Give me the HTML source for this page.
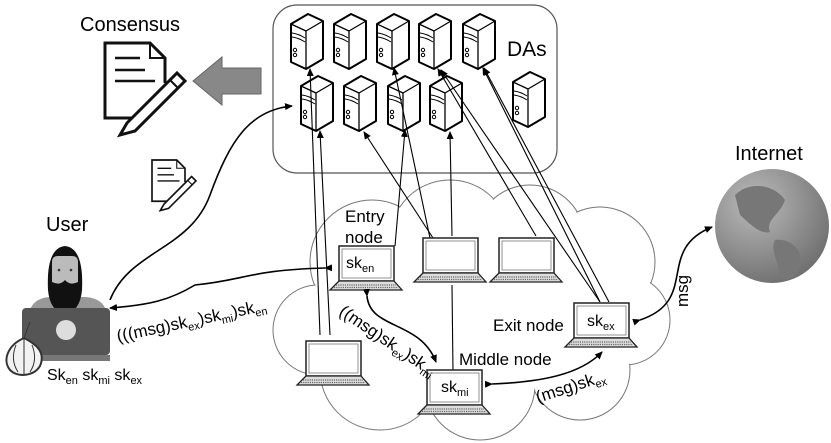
<!DOCTYPE html>
<html><head><meta charset="utf-8"><style>
body{margin:0;background:#fff;}
svg{display:block;font-family:"Liberation Sans",sans-serif;}
</style></head><body>
<svg width="831" height="443" viewBox="0 0 831 443" xmlns="http://www.w3.org/2000/svg">
<defs>
<marker id="ar" markerWidth="8" markerHeight="8" refX="7" refY="4" orient="auto" markerUnits="userSpaceOnUse">
<path d="M0,0.5 L8,4 L0,7.5 Z" fill="#000"/></marker>
<g id="srv" fill="#fff" stroke="#000" stroke-width="2" stroke-linejoin="round">
<path d="M0,10 L17,0 L32,7 L32,45 L15,55 L0,48 Z"/>
<path d="M0,10 L15,17 L32,7 M15,17 L15,55" fill="none" stroke-width="1.3"/>
<path d="M1,19 Q8,20 14,24 M1,23 Q8,24 14,28" fill="none" stroke-width="1"/>
<circle cx="4" cy="36" r="1.7" stroke-width="1"/><circle cx="4" cy="41" r="1.7" stroke-width="1"/>
</g>
<g id="lap">
<rect x="9" y="0" width="55" height="35" fill="#fff" stroke="#222" stroke-width="1.5"/>
<rect x="12" y="3" width="49" height="29" fill="#fff" stroke="#777" stroke-width="0.8"/>
<path d="M9,35 L0,44 L72,44 L64,35 Z" fill="#ddd" stroke="#222" stroke-width="1.3"/>
<path d="M6,39 L66,39 M4,41.5 L68,41.5" stroke="#666" stroke-width="1.2" stroke-dasharray="1.2 1"/>
</g>
<g id="doc" fill="none" stroke="#111" stroke-width="3">
<path d="M30,75 L0,75 L0,0 L45,0 L60,15 L60,40"/>
<path d="M45,0 L45,15 L60,15" stroke-width="2"/>
<path d="M10,15 L35,15 M10,27 L40,27 M10,38 L50,38" stroke-width="2.5"/>
<path d="M22,80 L72,30 L80,38 L30,88 L15,92 Z" fill="#fff"/>
<path d="M65,37 L73,45" stroke-width="2"/>
</g>
</defs>

<!-- DA box -->
<rect x="273" y="5" width="284" height="168" rx="24" fill="#fff" stroke="#555" stroke-width="1.2"/>
<text x="507" y="56" font-size="21">DAs</text>

<!-- cloud -->
<g stroke="#777" stroke-width="1" fill="#fff">
<circle cx="372" cy="262" r="62"/><circle cx="450" cy="240" r="60"/><circle cx="530" cy="240" r="55"/>
<circle cx="600" cy="262" r="55"/><circle cx="625" cy="320" r="45"/><circle cx="580" cy="370" r="50"/>
<circle cx="480" cy="385" r="55"/><circle cx="380" cy="370" r="60"/><circle cx="318" cy="330" r="45"/>
</g>
<g fill="#fff"><circle cx="372" cy="262" r="61"/><circle cx="450" cy="240" r="59"/><circle cx="530" cy="240" r="54"/>
<circle cx="600" cy="262" r="54"/><circle cx="625" cy="320" r="44"/><circle cx="580" cy="370" r="49"/>
<circle cx="480" cy="385" r="54"/><circle cx="380" cy="370" r="59"/><circle cx="318" cy="330" r="44"/><rect x="340" y="260" width="270" height="110"/></g>

<!-- servers -->
<use href="#srv" x="291" y="14"/><use href="#srv" x="334" y="14"/><use href="#srv" x="377" y="14"/>
<use href="#srv" x="419" y="14"/><use href="#srv" x="463" y="14"/>
<use href="#srv" x="301" y="76"/><use href="#srv" x="344" y="76"/><use href="#srv" x="388" y="76"/>
<use href="#srv" x="430" y="76"/><use href="#srv" x="513" y="72"/>

<!-- lines to DAs -->
<g stroke="#000" stroke-width="1.1" fill="none" marker-end="url(#ar)">
<line x1="320" y1="335" x2="310" y2="69"/>
<line x1="330" y1="335" x2="320" y2="131"/>
<line x1="395" y1="246" x2="405" y2="130"/>
<line x1="433" y1="238" x2="364" y2="132"/>
<line x1="430" y1="238" x2="394" y2="68"/>
<line x1="452" y1="236" x2="450" y2="132"/>
<line x1="536" y1="236" x2="438" y2="69"/>
<line x1="600" y1="302" x2="441" y2="70"/>
<line x1="600" y1="302" x2="483" y2="68"/>
<line x1="609" y1="302" x2="484" y2="68"/>
</g>
<line x1="452" y1="285" x2="453" y2="372" stroke="#000" stroke-width="1.1"/>

<!-- laptops -->
<use href="#lap" x="330" y="246"/><use href="#lap" x="414" y="238"/><use href="#lap" x="490" y="238"/>
<use href="#lap" x="565" y="303"/><use href="#lap" x="297" y="341"/><use href="#lap" x="418" y="370"/>
<text x="346" y="268" font-size="16">sk<tspan font-size="11" dy="4">en</tspan></text>
<text x="587" y="326" font-size="16">sk<tspan font-size="11" dy="4">ex</tspan></text>
<text x="441" y="392" font-size="16">sk<tspan font-size="11" dy="4">mi</tspan></text>
<text x="345" y="222" font-size="17">Entry</text><text x="345" y="243" font-size="17">node</text>
<text x="493" y="331" font-size="17">Exit node</text>
<text x="459" y="365" font-size="17">Middle node</text>

<!-- arrows -->
<g stroke="#000" stroke-width="1.6" fill="none">
<path d="M325,268 C250,270 245,280 195,285 C170,300 150,305 110,308" marker-end="url(#ar)" marker-start="url(#ar)"/>
<path d="M110,300 C130,250 190,250 210,195 C230,140 250,110 292,106" marker-end="url(#ar)"/>
<path d="M367,296 C370,330 420,320 436,362" marker-end="url(#ar)" marker-start="url(#ar)"/>
<path d="M492,384 C540,382 580,375 602,352" marker-end="url(#ar)" marker-start="url(#ar)"/>
<path d="M640,320 C700,300 655,250 712,227" marker-end="url(#ar)" marker-start="url(#ar)"/>
</g>
<text font-size="17" transform="translate(118,342) rotate(-12)">(((msg)sk<tspan font-size="11" dy="4">ex</tspan><tspan dy="-4">)sk</tspan><tspan font-size="11" dy="4">mi</tspan><tspan dy="-4">)sk</tspan><tspan font-size="11" dy="4">en</tspan></text>
<text font-size="17" transform="translate(338,314) rotate(34)">((msg)sk<tspan font-size="11" dy="4">ex</tspan><tspan dy="-4">)sk</tspan><tspan font-size="11" dy="4">mi</tspan></text>
<text font-size="17" transform="translate(538,403) rotate(-18)">(msg)sk<tspan font-size="11" dy="4">ex</tspan></text>
<text font-size="17" transform="translate(688,307) rotate(-90)">msg</text>

<!-- consensus -->
<text x="80" y="31" font-size="20">Consensus</text>
<use href="#doc" x="105" y="43"/>
<g transform="translate(152,160) scale(0.55)"><use href="#doc"/></g>
<path d="M193,81 L222,57 L222,68 L261,68 L261,94 L222,94 L222,105 Z" fill="#888" stroke="#666"/>

<!-- internet -->
<text x="735" y="160" font-size="20">Internet</text>
<defs><radialGradient id="gl" cx="0.35" cy="0.3" r="0.8"><stop offset="0" stop-color="#bbb"/><stop offset="1" stop-color="#6a6a6a"/></radialGradient></defs>
<circle cx="772" cy="226" r="57" fill="url(#gl)"/>
<path d="M735,195 C750,180 775,185 785,200 C780,215 765,220 770,232 C760,235 748,222 740,215 Z" fill="#777"/>
<path d="M775,240 C790,238 805,250 800,268 C795,280 785,282 780,275 C778,260 770,250 775,240 Z" fill="#777"/>

<!-- user -->
<text x="46" y="231" font-size="20">User</text>
<path d="M28,318 Q30,298 50,297 L85,297 Q106,298 108,318 Z" fill="#999"/>
<path d="M48,290 Q46,248 65,246 Q84,248 82,290 Q80,312 65,313 Q50,312 48,290 Z" fill="#111"/>
<path d="M52,262 Q52,256 58,256 L72,256 Q78,256 78,262 L78,282 Q70,286 65,280 Q60,286 52,282 Z" fill="#bbb"/>
<circle cx="59" cy="270" r="1.3" fill="#333"/><circle cx="71" cy="270" r="1.3" fill="#333"/>
<rect x="22" y="308" width="88" height="47" rx="4" fill="#555"/>
<rect x="26" y="355" width="84" height="6" fill="#777"/>
<circle cx="66" cy="330" r="10" fill="#ddd"/>
<path d="M24,338 C8,345 2,360 10,370 C18,378 34,376 40,366 C46,352 36,344 24,338 Z" fill="#f2f2f2" stroke="#333" stroke-width="2"/>
<path d="M24,338 L24,374 M16,345 Q10,360 18,372 M32,345 Q38,360 30,372 M24,338 L30,322" stroke="#333" fill="none"/>
<text x="47" y="380" font-size="16">Sk<tspan font-size="11" dy="4">en</tspan><tspan dy="-4"> sk</tspan><tspan font-size="11" dy="4">mi</tspan><tspan dy="-4"> sk</tspan><tspan font-size="11" dy="4">ex</tspan></text>
</svg>
</body></html>
